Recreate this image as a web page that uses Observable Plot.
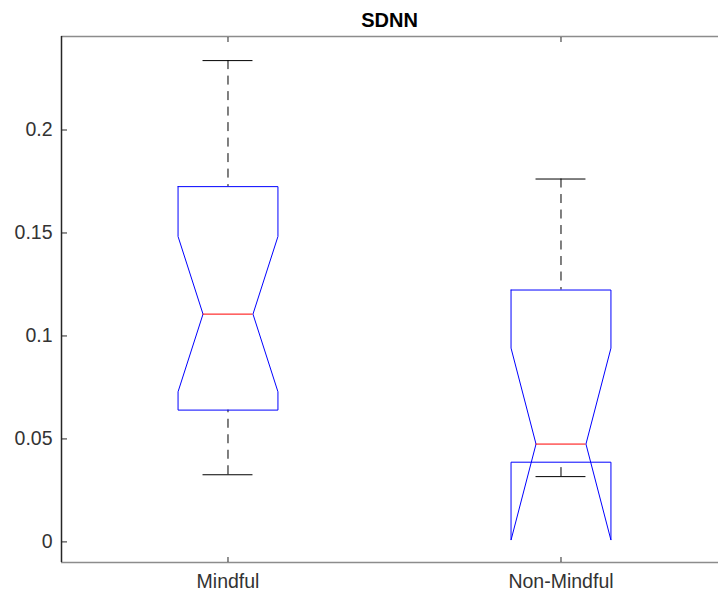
<!DOCTYPE html>
<html><head><meta charset="utf-8">
<script src="https://cdn.jsdelivr.net/npm/d3@7"></script>
<script src="https://cdn.jsdelivr.net/npm/@observablehq/plot@0.6"></script>
<style>
body{margin:0;background:#fff;}
#wrap{position:relative;width:718px;height:596px;overflow:hidden;}
#title{position:absolute;z-index:2;left:61px;width:657px;top:10px;text-align:center;font:bold 20px "Liberation Sans",Arial,sans-serif;line-height:20px;color:#000;}
</style></head><body>
<div id="wrap"><div id="title">SDNN</div></div>
<script>
const categories = ["Mindful", "Non-Mindful"];
const whiskerLow = [0.0326, 0.0317];
const q1 = [0.064, 0.0387];
const median = [0.1106, 0.0475];
const q3 = [0.1725, 0.1223];
const whiskerHigh = [0.2337, 0.1762];
const notchLow = [0.0729, 0.0009];
const notchHigh = [0.1483, 0.0941];
const yTicks = [0, 0.05, 0.1, 0.15, 0.2];
const yTickLabels = ["0", "0.05", "0.1", "0.15", "0.2"];

const pos = categories.map((c, i) => i + 1);
const boxHalf = 0.15, notchHalf = 0.075;
const xDomain = [0.5, 2.473];
const yDomain = [-0.01, 0.2454];

const rows = categories.map((c, i) => ({
  cat: c, x: pos[i], wl: whiskerLow[i], q1: q1[i], med: median[i], q3: q3[i],
  wh: whiskerHigh[i], nl: notchLow[i], nh: notchHigh[i]
}));
const outline = rows.flatMap(r => [
  [r.x - boxHalf, r.q3], [r.x + boxHalf, r.q3], [r.x + boxHalf, r.nh], [r.x + notchHalf, r.med],
  [r.x + boxHalf, r.nl], [r.x + boxHalf, r.q1], [r.x - boxHalf, r.q1], [r.x - boxHalf, r.nl],
  [r.x - notchHalf, r.med], [r.x - boxHalf, r.nh], [r.x - boxHalf, r.q3]
].map(([x, y]) => ({cat: r.cat, x, y})));

const chart = Plot.plot({
  width: 718, height: 596,
  marginTop: 36, marginBottom: 34, marginLeft: 61, marginRight: 0,
  style: {fontFamily: '"Liberation Sans", Arial, sans-serif', fontSize: "19.5px", color: "#262626", background: "white", overflow: "visible"},
  x: {type: "linear", domain: xDomain, axis: null},
  y: {domain: yDomain, axis: null},
  marks: [
    Plot.ruleY([yDomain[1]], {stroke: "#8c8c8c", strokeWidth: 1.5}),
    Plot.ruleY([yDomain[0]], {stroke: "#8c8c8c", strokeWidth: 1.5}),
    Plot.ruleX([xDomain[0]], {stroke: "#262626", strokeWidth: 1.5}),
    Plot.axisY(yTicks, {anchor: "left", label: null, tickSize: 0, tickPadding: 9, tickFormat: d => yTickLabels[yTicks.indexOf(d)], fill: "#333"}),
    Plot.axisY(yTicks, {anchor: "left", label: null, tickSize: 6, dx: 6, tickFormat: () => "", stroke: "#262626"}),
    Plot.axisX(pos, {anchor: "bottom", label: null, tickSize: 0, tickPadding: 12, tickFormat: d => categories[d - 1], fill: "#333"}),
    Plot.axisX(pos, {anchor: "bottom", label: null, tickSize: 5, dy: -5, tickFormat: () => "", stroke: "#262626"}),
    Plot.axisX(pos, {anchor: "top", label: null, tickSize: 5, dy: 5, tickFormat: () => "", stroke: "#262626"}),
    Plot.ruleX(rows, {x: "x", y1: "wh", y2: "q3", stroke: "black", strokeDasharray: "9,6.5"}),
    Plot.ruleX(rows, {x: "x", y1: "wl", y2: "q1", stroke: "black", strokeDasharray: "9,6.5"}),
    Plot.ruleY(rows, {y: "wh", x1: d => d.x - notchHalf, x2: d => d.x + notchHalf, stroke: "black"}),
    Plot.ruleY(rows, {y: "wl", x1: d => d.x - notchHalf, x2: d => d.x + notchHalf, stroke: "black"}),
    Plot.line(outline, {x: "x", y: "y", z: "cat", stroke: "blue", strokeWidth: 1}),
    Plot.ruleY(rows, {y: "med", x1: d => d.x - notchHalf, x2: d => d.x + notchHalf, stroke: "red"})
  ]
});
document.getElementById("wrap").appendChild(chart);
chart.style.position = "absolute";
chart.style.left = "0";
chart.style.top = "0";
</script>
</body></html>
